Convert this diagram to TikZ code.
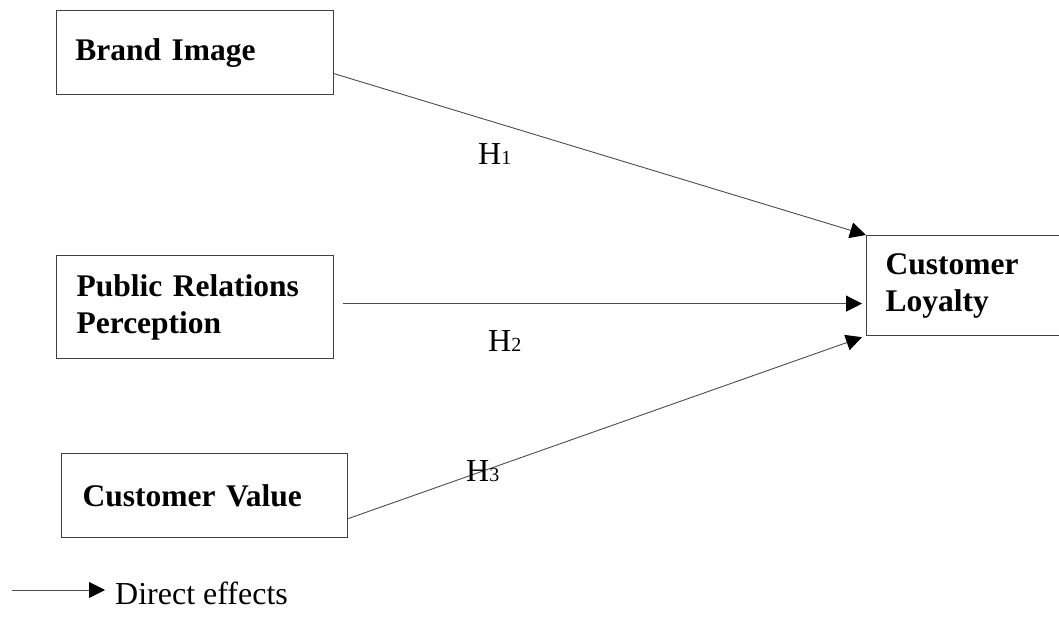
\documentclass[tikz,border=0pt]{standalone}
\usepackage{fontspec}
\setmainfont{Liberation Serif}
\usetikzlibrary{arrows.meta}
\begin{document}
\begin{tikzpicture}[x=1pt,y=-1pt,
  box/.style={draw=black!75, line width=1.2pt, rectangle, inner ysep=0pt,
    font=\fontsize{31.5}{37}\selectfont\bfseries, align=left, anchor=north west},
  conn/.style={draw=black!70, line width=0.9pt, -{Triangle[length=16pt,width=16pt,fill=black,color=black]}},
  hlab/.style={font=\fontsize{32}{34}\selectfont, anchor=base west, inner sep=0pt},
]
\useasboundingbox (0,0) rectangle (1059,617);
\node[box, inner xsep=19pt, text width=239pt, minimum height=84pt] (bi) at (55.7,10) {Brand Image};
\node[box, inner xsep=20pt, text width=237pt, minimum height=103pt] (pr) at (56,255) {Public Relations\\Perception};
\node[box, inner xsep=21.3pt, text width=243.7pt, minimum height=84pt] (cv) at (60.7,453) {Customer Value};
\node[box, inner xsep=19pt, text width=162pt, minimum height=100pt] (cl) at (866,235) {Customer\\Loyalty};

\draw[conn] ([yshift=-21pt]bi.east) -- (cl.north west);
\draw[conn] ([xshift=9pt,yshift=3.5pt]pr.east) -- ([xshift=-4pt,yshift=-18pt]cl.west);
\draw[conn] ([yshift=-23pt]cv.east) -- ([xshift=-4pt,yshift=-1pt]cl.south west);

\node[hlab] (h1) at (478,165) {H{\fontsize{20}{20}\selectfont 1}};
\node[hlab] (h2) at (488,351) {H{\fontsize{20}{20}\selectfont 2}};
\node[hlab] (h3) at (466,481) {H{\fontsize{20}{20}\selectfont 3}};

\coordinate (l0) at (12,590);
\coordinate (l1) at (105,590);
\draw[conn] (l0) -- (l1);
\node[hlab] (leg) at (115,604) {Direct effects};
\end{tikzpicture}
\end{document}
